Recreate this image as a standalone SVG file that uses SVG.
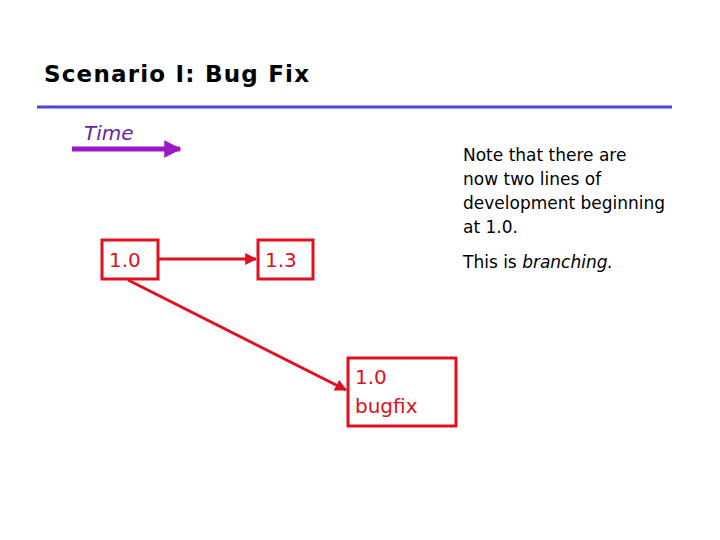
<svg xmlns="http://www.w3.org/2000/svg" width="720" height="540" viewBox="0 0 720 540">
<style>
text{font-family:"DejaVu Sans","Liberation Sans",sans-serif}
.box{fill:#fff;stroke:#e01020;stroke-width:3}
.lbl{font-size:20px;fill:#e01020}
.note{font-size:17px;fill:#000}
.conn{stroke:#e01020;stroke-width:3;fill:none}
</style>
<defs>
<marker id="ah" viewBox="0 0 10 10" refX="9" refY="5" markerWidth="4" markerHeight="4" orient="auto" markerUnits="strokeWidth"><path d="M0,0L10,5L0,10z" fill="#e01020"/></marker>
<marker id="ap" viewBox="0 0 10 10" refX="9" refY="5" markerWidth="3.5" markerHeight="3.5" orient="auto" markerUnits="strokeWidth"><path d="M0,0L10,5L0,10z" fill="#9a18c8"/></marker>
</defs>
<text x="44" y="82" font-size="23" font-weight="bold" textLength="265" lengthAdjust="spacing">Scenario I: Bug Fix</text>
<line x1="37" y1="107" x2="672" y2="107" stroke="#4848d0" stroke-width="3"/>
<text x="84" y="140" font-size="20" font-style="italic" fill="#6a1fa8">Time</text>
<line x1="72" y1="149" x2="180" y2="149" stroke="#9a18c8" stroke-width="5" marker-end="url(#ap)"/>
<g id="connectors">
<line class="conn" x1="158" y1="259" x2="256" y2="259" marker-end="url(#ah)"/>
<line class="conn" x1="128" y1="280" x2="346" y2="390" marker-end="url(#ah)"/>
</g>
<g id="n10"><rect class="box" x="102" y="240" width="56" height="39"/><text class="lbl" x="109" y="267">1.0</text></g>
<g id="n13"><rect class="box" x="258" y="240" width="55" height="39"/><text class="lbl" x="265" y="267">1.3</text></g>
<g id="nbug"><rect class="box" x="348" y="358" width="108" height="68"/><text class="lbl" x="355" y="384">1.0</text><text class="lbl" x="355" y="413">bugfix</text></g>
<g class="note">
<text x="463" y="161">Note that there are</text>
<text x="463" y="185">now two lines of</text>
<text x="463" y="209">development beginning</text>
<text x="463" y="233">at 1.0.</text>
<text x="463" y="268">This is <tspan font-style="italic">branching.</tspan></text>
</g>
</svg>
